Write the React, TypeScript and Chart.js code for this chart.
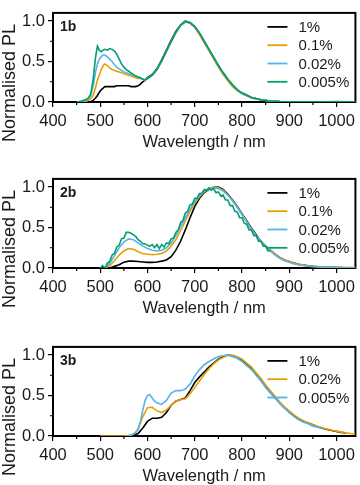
import React, { useEffect, useRef } from 'react';
import { Chart, registerables } from 'chart.js';

Chart.register(...registerables);

const FONT = "'Liberation Sans', Arial, Helvetica, sans-serif";
const TEXT = '#1a1a1a';
const BLACK = '#000000';
const ORANGE = '#E69F00';
const BLUE = '#56B4E9';
const GREEN = '#009E73';

const xTickValues = [400, 500, 600, 700, 800, 900, 1000];
const xMinorTicks = [450, 550, 650, 750, 850, 950];
const yTickValues = [0, 0.5, 1.0];
const yMinorTicks = [0.25, 0.75];
const X_MIN = 400;
const X_MAX = 1040;
const Y_MIN = 0;
const Y_MAX = 1.1;
const xTitle = 'Wavelength / nm';
const yTitle = 'Normalised PL';

// ---------- Panel 1b ----------
const labels1 = ['1%', '0.1%', '0.02%', '0.005%'];
const wl1 = [450, 455, 460, 465, 470, 475, 480, 485, 490, 494, 498, 502, 506, 510, 515, 520, 525, 530, 535, 540, 545, 550, 555, 560, 565, 570, 575, 580, 585, 590, 595, 600, 610, 620, 630, 640, 650, 660, 670, 680, 690, 700, 710, 720, 730, 740, 750, 760, 770, 780, 790, 800, 820, 840, 860, 880, 900, 925, 950, 975, 1000, 1020, 1040];
const black1 = [null, null, null, null, null, 0.0, 0.005, 0.02, 0.05, 0.08, 0.12, 0.15, 0.17, 0.19, 0.19, 0.19, 0.19, 0.19, 0.2, 0.2, 0.2, 0.2, 0.2, 0.2, 0.19, 0.19, 0.19, 0.2, 0.22, 0.25, 0.27, 0.3, 0.34, 0.41, 0.52, 0.64, 0.76, 0.87, 0.95, 1.0, 0.98, 0.93, 0.85, 0.75, 0.65, 0.55, 0.45, 0.36, 0.28, 0.21, 0.15, 0.11, 0.055, 0.027, 0.013, 0.006, 0.003, 0.002, 0.001, 0.001, 0.001, 0.001, 0.001];
const orange1 = [null, null, null, 0.0, 0.01, 0.02, 0.04, 0.08, 0.18, 0.27, 0.33, 0.4, 0.45, 0.47, 0.45, 0.42, 0.4, 0.39, 0.38, 0.37, 0.36, 0.35, 0.34, 0.33, 0.32, 0.31, 0.3, 0.29, 0.29, 0.28, 0.27, 0.29, 0.33, 0.4, 0.5, 0.62, 0.74, 0.85, 0.94, 0.99, 0.97, 0.92, 0.83, 0.73, 0.63, 0.53, 0.43, 0.34, 0.26, 0.19, 0.14, 0.1, 0.05, 0.025, 0.012, 0.006, 0.003, 0.002, 0.001, 0.001, 0.001, 0.001, 0.001];
const blue1 = [null, null, 0.005, 0.01, 0.02, 0.04, 0.08, 0.2, 0.37, 0.47, 0.53, 0.56, 0.58, 0.58, 0.56, 0.53, 0.5, 0.46, 0.43, 0.41, 0.39, 0.37, 0.36, 0.35, 0.34, 0.33, 0.32, 0.31, 0.3, 0.28, 0.27, 0.29, 0.33, 0.4, 0.51, 0.63, 0.75, 0.86, 0.95, 1.0, 0.98, 0.93, 0.85, 0.75, 0.65, 0.55, 0.45, 0.36, 0.28, 0.21, 0.15, 0.11, 0.055, 0.027, 0.013, 0.006, 0.003, 0.002, 0.002, 0.001, 0.001, 0.001, 0.001];
const green1 = [0.0, 0.005, 0.012, 0.02, 0.03, 0.05, 0.1, 0.28, 0.55, 0.69, 0.64, 0.62, 0.64, 0.65, 0.64, 0.66, 0.65, 0.63, 0.59, 0.53, 0.47, 0.43, 0.4, 0.38, 0.36, 0.34, 0.32, 0.31, 0.3, 0.28, 0.27, 0.29, 0.33, 0.4, 0.51, 0.63, 0.75, 0.86, 0.95, 0.99, 0.98, 0.93, 0.85, 0.75, 0.65, 0.55, 0.45, 0.36, 0.28, 0.21, 0.15, 0.11, 0.055, 0.028, 0.013, 0.007, 0.004, 0.002, 0.004, 0.002, 0.005, 0.002, 0.003];

// ---------- Panel 2b ----------
const labels2 = ['1%', '0.1%', '0.02%', '0.005%'];
const wl2 = [510, 520, 530, 540, 550, 560, 570, 580, 590, 600, 610, 620, 630, 640, 650, 660, 670, 680, 690, 700, 710, 720, 730, 740, 750, 760, 770, 780, 790, 800, 810, 820, 830, 840, 850, 860, 870, 880, 890, 900, 910, 920, 930, 940, 950, 960, 970, 980, 990, 1000, 1010, 1020, 1030, 1040];
const black2 = [0.0, 0.0, 0.02, 0.04, 0.07, 0.085, 0.085, 0.08, 0.075, 0.07, 0.07, 0.075, 0.085, 0.1, 0.14, 0.22, 0.33, 0.47, 0.62, 0.76, 0.86, 0.93, 0.97, 0.995, 1.0, 0.97, 0.91, 0.84, 0.76, 0.67, 0.58, 0.49, 0.41, 0.33, 0.27, 0.22, 0.17, 0.13, 0.1, 0.08, 0.06, 0.045, 0.035, 0.027, 0.02, 0.016, 0.012, 0.01, 0.008, 0.006, 0.005, 0.004, 0.003, 0.003];
const orange2 = [0.0, 0.03, 0.09, 0.16, 0.21, 0.24, 0.23, 0.2, 0.18, 0.17, 0.165, 0.17, 0.18, 0.21, 0.27, 0.35, 0.46, 0.58, 0.7, 0.8, 0.88, 0.94, 0.98, 1.0, 0.99, 0.96, 0.9, 0.83, 0.75, 0.66, 0.57, 0.48, 0.4, 0.33, 0.27, 0.22, 0.17, 0.13, 0.1, 0.08, 0.06, 0.046, 0.036, 0.028, 0.022, 0.018, 0.014, 0.012, 0.01, 0.009, 0.01, 0.007, 0.01, 0.006];
const blue2 = [0.0, 0.06, 0.15, 0.25, 0.32, 0.36, 0.35, 0.31, 0.27, 0.24, 0.22, 0.21, 0.22, 0.25, 0.31, 0.4, 0.51, 0.62, 0.73, 0.82, 0.89, 0.95, 0.98, 0.99, 0.98, 0.95, 0.9, 0.83, 0.75, 0.66, 0.57, 0.48, 0.4, 0.33, 0.26, 0.21, 0.16, 0.12, 0.09, 0.07, 0.05, 0.04, 0.03, 0.022, 0.017, 0.013, 0.01, 0.008, 0.006, 0.005, 0.004, 0.003, 0.003, 0.002];
const wl2Green = [500, 505, 510, 515, 520, 525, 530, 535, 540, 545, 550, 555, 560, 565, 570, 575, 580, 585, 590, 595, 600, 605, 610, 615, 620, 625, 630, 635, 640, 645, 650, 655, 660, 665, 670, 675, 680, 685, 690, 695, 700, 705, 710, 715, 720, 725, 730, 735, 740, 745, 750, 755, 760, 765, 770, 775, 780, 785, 790, 795, 800, 805, 810, 815, 820, 825, 830, 835, 840, 845, 850, 855, 860];
const green2 = [0.0, 0.03, 0.0, 0.06, 0.08, 0.16, 0.18, 0.26, 0.28, 0.36, 0.37, 0.44, 0.44, 0.43, 0.41, 0.39, 0.35, 0.33, 0.3, 0.3, 0.28, 0.27, 0.29, 0.25, 0.29, 0.24, 0.29, 0.26, 0.31, 0.3, 0.36, 0.37, 0.44, 0.47, 0.56, 0.59, 0.68, 0.7, 0.78, 0.79, 0.86, 0.86, 0.92, 0.92, 0.97, 0.96, 0.99, 0.96, 0.98, 0.93, 0.94, 0.89, 0.9, 0.84, 0.84, 0.77, 0.77, 0.7, 0.69, 0.62, 0.62, 0.55, 0.54, 0.47, 0.47, 0.4, 0.4, 0.33, 0.33, 0.27, 0.27, 0.21, 0.21];

// ---------- Panel 3b ----------
const labels3 = ['1%', '0.02%', '0.005%'];
const wl3 = [500, 510, 520, 530, 540, 550, 560, 570, 580, 590, 600, 610, 620, 630, 640, 650, 660, 670, 680, 690, 700, 710, 720, 730, 740, 750, 760, 770, 780, 790, 800, 810, 820, 830, 840, 850, 860, 870, 880, 890, 900, 910, 920, 930, 940, 950, 960, 970, 980, 990, 1000, 1010, 1020, 1030, 1040];
const black3 = [null, null, null, null, null, null, 0.0, 0.005, 0.03, 0.1, 0.18, 0.22, 0.22, 0.23, 0.29, 0.38, 0.43, 0.45, 0.47, 0.56, 0.66, 0.73, 0.79, 0.85, 0.9, 0.95, 0.98, 1.0, 0.99, 0.97, 0.93, 0.88, 0.83, 0.76, 0.69, 0.61, 0.54, 0.47, 0.41, 0.35, 0.29, 0.25, 0.21, 0.18, 0.16, 0.14, 0.115, 0.095, 0.08, 0.068, 0.056, 0.045, 0.037, null, null];
const orange3 = [0.0, 0.0, 0.0, 0.0, 0.0, 0.0, 0.005, 0.02, 0.08, 0.24, 0.35, 0.355, 0.31, 0.29, 0.32, 0.38, 0.43, 0.45, 0.46, 0.52, 0.6, 0.68, 0.76, 0.83, 0.89, 0.94, 0.97, 0.995, 1.0, 0.98, 0.95, 0.9, 0.85, 0.78, 0.71, 0.63, 0.56, 0.49, 0.42, 0.36, 0.31, 0.26, 0.22, 0.19, 0.16, 0.14, 0.12, 0.1, 0.085, 0.07, 0.06, 0.048, 0.04, 0.03, 0.025];
const wl3Blue = [555, 565, 575, 580, 585, 590, 595, 600, 605, 610, 615, 620, 630, 640, 650, 660, 670, 680, 690, 700, 710, 720, 730, 740, 750, 760, 770, 780, 790, 800, 810, 820, 830, 840, 850, 860, 870, 880, 890, 900, 910, 920, 930, 940, 950, 960, 970];
const blue3 = [0.0, 0.01, 0.04, 0.09, 0.18, 0.32, 0.44, 0.5, 0.51, 0.47, 0.43, 0.41, 0.39, 0.44, 0.53, 0.56, 0.56, 0.58, 0.64, 0.74, 0.82, 0.88, 0.92, 0.95, 0.98, 0.99, 1.0, 0.98, 0.96, 0.92, 0.87, 0.82, 0.75, 0.68, 0.6, 0.53, 0.47, 0.4, 0.34, 0.29, 0.24, 0.2, 0.17, 0.15, 0.12, 0.11, 0.1];

type Series = { label: string; color: string; wl: number[]; val: (number | null)[] };

const panels: { tag: string; top: number; series: Series[] }[] = [
  {
    tag: '1b',
    top: 0,
    series: [
      { label: labels1[0], color: BLACK, wl: wl1, val: black1 },
      { label: labels1[1], color: ORANGE, wl: wl1, val: orange1 },
      { label: labels1[2], color: BLUE, wl: wl1, val: blue1 },
      { label: labels1[3], color: GREEN, wl: wl1, val: green1 },
    ],
  },
  {
    tag: '2b',
    top: 166,
    series: [
      { label: labels2[0], color: BLACK, wl: wl2, val: black2 },
      { label: labels2[1], color: ORANGE, wl: wl2, val: orange2 },
      { label: labels2[2], color: BLUE, wl: wl2, val: blue2 },
      { label: labels2[3], color: GREEN, wl: wl2Green, val: green2 },
    ],
  },
  {
    tag: '3b',
    top: 334,
    series: [
      { label: labels3[0], color: BLACK, wl: wl3, val: black3 },
      { label: labels3[1], color: ORANGE, wl: wl3, val: orange3 },
      { label: labels3[2], color: BLUE, wl: wl3Blue, val: blue3 },
    ],
  },
];

const CANVAS_W = 360;
const CANVAS_H = 150;

function Panel({ tag, top, series }: { tag: string; top: number; series: Series[] }) {
  const ref = useRef<HTMLCanvasElement | null>(null);

  useEffect(() => {
    const canvas = ref.current;
    if (!canvas) return;

    const deco = {
      id: 'deco',
      beforeDatasetsDraw(chart: any) {
        const { ctx, chartArea: a, scales } = chart;
        ctx.save();
        ctx.strokeStyle = '#000';
        ctx.lineWidth = 1.2;
        ctx.beginPath();
        xMinorTicks.forEach((v) => {
          const px = scales.x.getPixelForValue(v);
          ctx.moveTo(px, a.bottom);
          ctx.lineTo(px, a.bottom + 3);
        });
        yMinorTicks.forEach((v) => {
          const py = scales.y.getPixelForValue(v);
          ctx.moveTo(a.left, py);
          ctx.lineTo(a.left - 3, py);
        });
        ctx.stroke();
        ctx.lineWidth = 2;
        ctx.strokeRect(a.left, a.top, a.right - a.left, a.bottom - a.top);
        ctx.restore();
      },
      afterDraw(chart: any) {
        const { ctx, chartArea: a } = chart;
        ctx.save();
        // panel tag
        ctx.fillStyle = TEXT;
        ctx.font = `bold 14px ${FONT}`;
        ctx.textAlign = 'left';
        ctx.textBaseline = 'middle';
        ctx.fillText(tag, a.left + 7, a.top + 14);
        // legend
        ctx.font = `15px ${FONT}`;
        chart.data.datasets.forEach((ds: any, i: number) => {
          const y = a.top + 14 + i * 18.3;
          ctx.strokeStyle = ds.borderColor;
          ctx.lineWidth = 1.8;
          ctx.beginPath();
          ctx.moveTo(a.right - 88, y);
          ctx.lineTo(a.right - 68, y);
          ctx.stroke();
          ctx.fillStyle = TEXT;
          ctx.fillText(ds.label, a.right - 57, y + 1);
        });
        // x title
        ctx.font = `16.5px ${FONT}`;
        ctx.textAlign = 'center';
        ctx.textBaseline = 'alphabetic';
        ctx.fillText(xTitle, (a.left + a.right) / 2, a.bottom + 45);
        // y title
        ctx.translate(14.5, a.top + 70);
        ctx.rotate(-Math.PI / 2);
        ctx.font = `18px ${FONT}`;
        ctx.textAlign = 'center';
        ctx.textBaseline = 'alphabetic';
        ctx.fillText(yTitle, 0, 0);
        ctx.restore();
      },
    };

    const n = series.length;
    const chart = new Chart(canvas, {
      type: 'line',
      data: {
        datasets: series.map((s, i) => ({
          label: s.label,
          data: s.wl.map((x, j) => ({ x, y: s.val[j] })),
          borderColor: s.color,
          backgroundColor: s.color,
          borderWidth: 1.6,
          pointRadius: 0,
          pointHoverRadius: 0,
          tension: 0,
          fill: false,
          spanGaps: false,
          order: n - 1 - i,
        })),
      },
      options: {
        animation: false,
        responsive: false,
        maintainAspectRatio: false,
        events: [],
        layout: { padding: { top: 2, right: 2, left: 0, bottom: 0 } },
        plugins: {
          legend: { display: false },
          tooltip: { enabled: false },
          title: { display: false },
        },
        scales: {
          x: {
            type: 'linear',
            min: X_MIN,
            max: X_MAX,
            afterFit: (s: any) => {
              s.height = 48;
            },
            afterBuildTicks: (s: any) => {
              s.ticks = xTickValues.map((v) => ({ value: v }));
            },
            ticks: {
              color: TEXT,
              font: { family: FONT, size: 16.5 },
              padding: 5,
              maxRotation: 0,
              autoSkip: false,
              callback: (v: any) => String(v),
            },
            grid: {
              display: true,
              drawOnChartArea: false,
              drawTicks: true,
              tickLength: 5,
              color: '#000',
              lineWidth: 1.2,
            },
            border: { display: false },
          },
          y: {
            type: 'linear',
            min: Y_MIN,
            max: Y_MAX,
            afterFit: (s: any) => {
              s.width = 53;
            },
            afterBuildTicks: (s: any) => {
              s.ticks = yTickValues.map((v) => ({ value: v }));
            },
            ticks: {
              color: TEXT,
              font: { family: FONT, size: 16.5 },
              padding: 3,
              callback: (v: any) => Number(v).toFixed(1),
            },
            grid: {
              display: true,
              drawOnChartArea: false,
              drawTicks: true,
              tickLength: 5,
              color: '#000',
              lineWidth: 1.2,
            },
            border: { display: false },
          },
        },
      },
      plugins: [deco],
    } as any);

    return () => chart.destroy();
  }, [tag, series]);

  return (
    <canvas
      ref={ref}
      width={CANVAS_W}
      height={CANVAS_H}
      style={{ position: 'absolute', left: 0, top, width: CANVAS_W, height: CANVAS_H }}
    />
  );
}

export default function App() {
  return (
    <div
      style={{
        position: 'absolute',
        left: 0,
        top: 0,
        width: 360,
        height: 485,
        overflow: 'hidden',
        background: '#fff',
      }}
    >
      {panels.map((p) => (
        <Panel key={p.tag} tag={p.tag} top={p.top} series={p.series} />
      ))}
    </div>
  );
}
